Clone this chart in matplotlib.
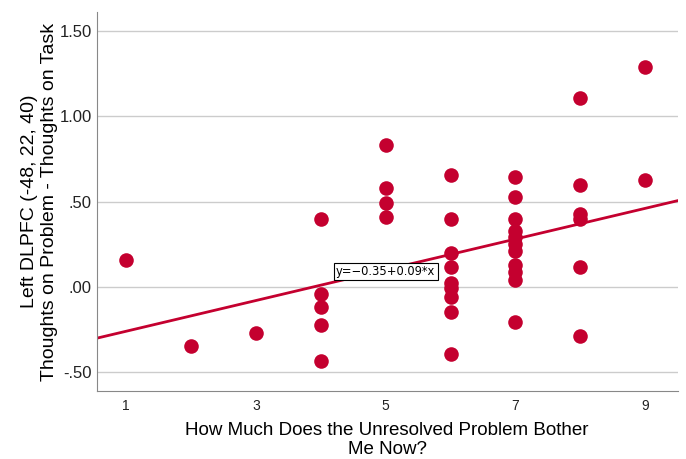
import numpy as np
import matplotlib.pyplot as plt

plt.rcParams['font.family'] = ['Liberation Sans', 'DejaVu Sans']

# bother rating (x) and DLPFC contrast (y)
bother = [1, 2, 3,
          4, 4, 4, 4, 4,
          5, 5, 5, 5,
          6, 6, 6, 6, 6, 6, 6, 6, 6,
          7, 7, 7, 7, 7, 7, 7, 7, 7, 7, 7,
          8, 8, 8, 8, 8, 8,
          9, 9]
dlpfc = [0.158, -0.345, -0.269,
         0.40, -0.04, -0.117, -0.222, -0.433,
         0.83, 0.58, 0.49, 0.41,
         0.655, 0.40, 0.20, 0.117, 0.023, -0.006, -0.058, -0.146, -0.392,
         0.645, 0.525, 0.40, 0.33, 0.29, 0.25, 0.21, 0.13, 0.09, 0.04, -0.205,
         1.105, 0.596, 0.427, 0.40, 0.117, -0.29,
         1.287, 0.626]
intercept, slope = -0.35, 0.09

y_ticks = [-0.5, 0.0, 0.5, 1.0, 1.5]
y_labels = ['-.50', '.00', '.50', '1.00', '1.50']
x_ticks = [1, 3, 5, 7, 9]

red = '#c4002f'

fig = plt.figure(figsize=(6.86, 4.59), dpi=100)
ax = fig.add_axes([0.141, 0.148, 0.847, 0.826])

ax.scatter(bother, dlpfc, s=110, color=red, zorder=3, linewidths=0)

xlim = (0.55, 9.5)
xs = np.array(xlim)
ax.plot(xs, intercept + slope * xs, color=red, lw=2, zorder=2)

ax.text(5.0, 0.09, 'y=\u22120.35+0.09*x', fontsize=8.3, ha='center', va='center',
        family=['DejaVu Sans'], zorder=4,
        bbox=dict(boxstyle='square,pad=0.2', fc='white', ec='black', lw=0.8))

ax.set_xlim(*xlim)
ax.set_ylim(-0.61, 1.61)
ax.set_yticks(y_ticks)
ax.set_yticklabels(y_labels)
ax.set_xticks(x_ticks)
ax.tick_params(length=0, labelsize=12, colors='#222222')
ax.tick_params(axis='x', labelsize=10, pad=6)
ax.grid(axis='y', color='#cccccc', lw=1)
ax.set_axisbelow(True)
for s in ['top', 'right']:
    ax.spines[s].set_visible(False)
for s in ['left', 'bottom']:
    ax.spines[s].set_color('#888888')

ax.set_xlabel('How Much Does the Unresolved Problem Bother\nMe Now?', fontsize=13.5,
              linespacing=1.2, labelpad=6)
ax.set_ylabel('Left DLPFC (-48, 22, 40)\nThoughts on Problem - Thoughts on Task', fontsize=14,
              linespacing=1.25, labelpad=1)

fig.savefig('out.png', dpi=100)
